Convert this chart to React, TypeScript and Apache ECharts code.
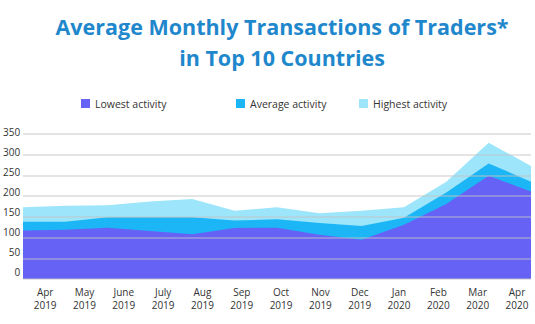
import React, { useEffect, useRef } from "react";
import * as echarts from "echarts";

const months = ["Apr\n2019", "May\n2019", "June\n2019", "July\n2019", "Aug\n2019", "Sep\n2019", "Oct\n2019", "Nov\n2019", "Dec\n2019", "Jan\n2020", "Feb\n2020", "Mar\n2020", "Apr\n2020"];
const lowest = [117, 119, 124, 116, 108, 123, 124, 107, 95, 131, 181, 249, 211];
const average = [138, 138, 149, 149, 149, 141, 144, 135, 128, 148, 209, 279, 235];
const highest = [173, 177, 178, 187, 193, 165, 173, 159, 165, 173, 235, 329, 273];
const yTicks = [0, 50, 100, 150, 200, 250, 300, 350];

const FONT = "'Open Sans', 'Noto Sans', sans-serif";
const C_LOW = "#6662f6";
const C_AVG = "#1cb5f6";
const C_HIGH = "#9ce5fb";

export default function App() {
  const ref = useRef<HTMLDivElement>(null);
  useEffect(() => {
    if (!ref.current) return;
    const chart = echarts.init(ref.current, null, { renderer: "svg" });
    const area = (name: string, data: number[], color: string, z: number) => ({
      name,
      type: "line",
      data,
      xAxisIndex: 0,
      yAxisIndex: 0,
      symbol: "none",
      lineStyle: { width: 0 },
      itemStyle: { color },
      areaStyle: { color, opacity: 1 },
      z,
    });
    const legendCommon = {
      icon: "rect",
      itemWidth: 9,
      itemHeight: 9,
      top: 93,
      textStyle: { fontFamily: FONT, fontSize: 10.5, color: "#333" },
    };
    chart.setOption({
      animation: false,
      title: {
        text: "Average Monthly Transactions of Traders*\nin Top 10 Countries",
        left: 277,
        top: 6,
        textAlign: "center",
        textStyle: {
          fontFamily: FONT,
          fontSize: 21.5,
          fontWeight: "bold",
          color: "#1f87cc",
          lineHeight: 31,
        },
      },
      legend: [
        { ...legendCommon, left: 76, data: ["Lowest activity"] },
        { ...legendCommon, left: 231, data: ["Average activity"] },
        { ...legendCommon, left: 354, data: ["Highest activity"] },
      ],
      grid: [
        { left: 23, right: 4, top: 134, height: 145 },
        { left: 42, right: 18, top: 132, height: 140 },
      ],
      xAxis: [
        {
          gridIndex: 0,
          type: "category",
          data: months,
          boundaryGap: false,
          axisLine: { show: false },
          axisTick: { show: false },
          axisLabel: { show: false },
        },
        {
          gridIndex: 1,
          type: "category",
          data: months,
          boundaryGap: false,
          axisLine: { show: false },
          axisTick: { show: false },
          axisLabel: {
            margin: 13,
            fontFamily: FONT,
            fontSize: 10,
            lineHeight: 13,
            color: "#333",
            interval: 0,
          },
        },
      ],
      yAxis: [
        {
          gridIndex: 0,
          type: "value",
          min: 0,
          max: 350,
          interval: 50,
          z: 5,
          axisLine: { show: false },
          axisTick: { show: false },
          axisLabel: { show: false },
          splitLine: { lineStyle: { color: "rgba(195,195,195,0.6)", width: 1.5 } },
        },
        {
          gridIndex: 1,
          type: "value",
          min: yTicks[0],
          max: yTicks[yTicks.length - 1],
          interval: 50,
          axisLine: { show: false },
          axisTick: { show: false },
          splitLine: { show: false },
          axisLabel: { margin: 25, fontFamily: FONT, fontSize: 10, color: "#333" },
        },
      ],
      series: [
        area("Highest activity", highest, C_HIGH, 1),
        area("Average activity", average, C_AVG, 2),
        area("Lowest activity", lowest, C_LOW, 3),
      ],
    });
    return () => chart.dispose();
  }, []);
  return <div ref={ref} style={{ width: 535, height: 324, position: "absolute", left: 0, top: 0 }} />;
}
